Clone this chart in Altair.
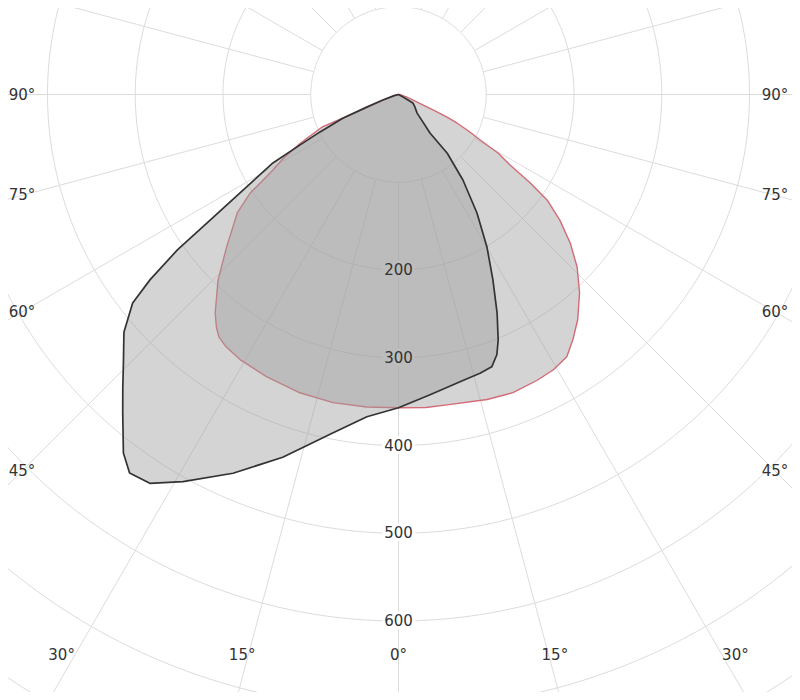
import altair as alt
import numpy as np
import pandas as pd

# ---- data: luminous intensity polar curves (angle from nadir in degrees, + = right; value in cd) ----
# C90-C270 plane (red outline)
red_angle = [-90, -80, -75, -70, -68.4, -67.1, -66.9, -63.6, -61, -59, -56.4, -53.7, -48.4, -44.2,
             -40, -38, -36.5, -34.5, -30.8, -25, -18.3, -12, -5.8, 0, 5, 8.9, 16.2, 21, 25.9, 29.3,
             32.7, 35.4, 38.5, 42.4, 46, 49.1, 52.1, 54.6, 56.1, 57.7, 59.5, 60.8, 62.5, 64, 65.1,
             65.8, 67, 69, 72, 75, 80, 90]
red_value = [0, 3, 6, 15, 26, 60, 95, 125, 150, 167, 203, 228, 262, 295,
             325, 337, 344, 348, 352, 355, 358, 359, 358, 357, 358, 358, 362, 364, 362, 360,
             355, 343, 328, 306, 283, 259, 233, 208, 181, 150, 132, 108, 90, 74, 61,
             45, 30, 18, 10, 6, 3, 0]

# C0-C180 plane (black outline)
black_angle = [-90, -75, -70.5, -68.4, -67, -64.5, -62.9, -61.4, -58.4, -56.3, -54.9, -53.3, -51.9,
               -49.1, -45.7, -43.2, -40.9, -37.5, -35.4, -32.6, -29.1, -23.6, -17.7, -11, -5.6, 0,
               6, 12.7, 16.3, 18.9, 20.7, 22.1, 24.3, 27, 30.1, 33.5, 37, 39.7, 39.3, 45, 52,
               59.6, 61, 90]
black_value = [0, 5, 19, 39, 69, 99, 126, 163, 208, 258, 308, 353, 385,
               414, 438, 459, 480, 515, 529, 526, 505, 471, 434, 393, 369, 357,
               344, 334, 331, 328, 317, 302, 273, 237, 201, 162, 122, 87, 57, 30, 24,
               19, 6, 0]

ring_values = [100, 200, 300, 400, 500, 600, 700, 800, 900, 1000]
ring_labels = [200, 300, 400, 500, 600]
spoke_angles = list(range(0, 360, 15))
angle_ticks = [-90, -75, -60, -45, -30, -15, 0, 15, 30, 45, 60, 75, 90]

# ---- layout ----
PX_PER_UNIT = 0.8775
W_PX, H_PX = 784, 684
CX, CY = 390.5, 86.5
x_dom = [-CX / PX_PER_UNIT, (W_PX - CX) / PX_PER_UNIT]
y_dom = [-(H_PX - CY) / PX_PER_UNIT, CY / PX_PER_UNIT]
xs = alt.Scale(domain=x_dom, nice=False, zero=False)
ys = alt.Scale(domain=y_dom, nice=False, zero=False)
LBL_W = 376.5 / PX_PER_UNIT
LBL_D = 583.5 / PX_PER_UNIT

GRID = "#dcdcdc"
TXT = "#333333"
FONT = "DejaVu Sans"

# grid circles
rows = []
for r in ring_values:
    for i, a in enumerate(np.arange(0, 361, 1.0)):
        rows.append({"ring": r, "i": i, "a": float(a), "r": r})
circ_df = pd.DataFrame(rows)
circles = alt.Chart(circ_df).transform_calculate(
    x="datum.r*sin(datum.a*PI/180)", y="-datum.r*cos(datum.a*PI/180)"
).mark_line(color=GRID, strokeWidth=1, clip=True).encode(
    x=alt.X("x:Q", scale=xs, axis=None),
    y=alt.Y("y:Q", scale=ys, axis=None),
    detail="ring:N",
    order="i:Q",
)

# spokes
sp_df = pd.DataFrame({"a": spoke_angles, "r0": 100, "r1": 1300})
spokes = alt.Chart(sp_df).transform_calculate(
    x="datum.r0*sin(datum.a*PI/180)", y="-datum.r0*cos(datum.a*PI/180)",
    x2="datum.r1*sin(datum.a*PI/180)", y2="-datum.r1*cos(datum.a*PI/180)",
).mark_rule(color=GRID, strokeWidth=1, clip=True).encode(
    x=alt.X("x:Q", scale=xs, axis=None),
    y=alt.Y("y:Q", scale=ys, axis=None),
    x2="x2:Q", y2="y2:Q",
)

# radial value labels
rl_df = pd.DataFrame({"r": ring_labels, "label": [str(v) for v in ring_labels]})
rl_base = alt.Chart(rl_df).transform_calculate(x="0", y="-datum.r")
rl_halo = rl_base.mark_text(font=FONT, fontSize=15, color="white", stroke="white", strokeWidth=6,
                            align="center", baseline="middle").encode(
    x=alt.X("x:Q", scale=xs, axis=None), y=alt.Y("y:Q", scale=ys, axis=None), text="label:N")
rl_text = rl_base.mark_text(font=FONT, fontSize=15, color=TXT,
                            align="center", baseline="middle").encode(
    x=alt.X("x:Q", scale=xs, axis=None), y=alt.Y("y:Q", scale=ys, axis=None), text="label:N")


def poly(angles, values, stroke, width):
    df = pd.DataFrame({"a": angles, "v": values, "i": range(len(angles))})
    return alt.Chart(df).transform_calculate(
        x="datum.v*sin(datum.a*PI/180)", y="-datum.v*cos(datum.a*PI/180)"
    ).mark_line(fill="#a0a0a0", fillOpacity=0.45, stroke=stroke, strokeWidth=width,
                strokeJoin="round", interpolate="linear-closed", clip=True).encode(
        x=alt.X("x:Q", scale=xs, axis=None),
        y=alt.Y("y:Q", scale=ys, axis=None),
        order="i:Q",
    )


red_poly = poly(red_angle, red_value, "#d46a76", 1.4)
black_poly = poly(black_angle, black_value, "#333333", 1.7)

# angle labels around the frame
side_rows, bottom_rows = [], []
for g in angle_ticks:
    s, c = np.sin(np.radians(g)), np.cos(np.radians(g))
    tw = LBL_W / abs(s) if abs(s) > 1e-9 else 1e9
    td = LBL_D / c if c > 1e-9 else 1e9
    t = min(tw, td)
    row = {"x": t * s, "y": -t * c, "label": f"{abs(g)}°"}
    (side_rows if tw <= td else bottom_rows).append(row)


def ang_layer(rows, dy):
    return alt.Chart(pd.DataFrame(rows)).mark_text(
        font=FONT, fontSize=15, color=TXT, align="center", baseline="middle", dy=dy
    ).encode(x=alt.X("x:Q", scale=xs, axis=None), y=alt.Y("y:Q", scale=ys, axis=None),
             text="label:N")


side_labels = ang_layer(side_rows, 0)
bottom_labels = ang_layer(bottom_rows, -23)

chart = alt.layer(
    circles, spokes, rl_halo, red_poly, black_poly, rl_text, side_labels, bottom_labels
).properties(
    width=W_PX, height=H_PX, autosize=alt.AutoSizeParams(type="none"), padding=0,
    background="white",
).configure_view(stroke=None)

chart.save("out.html", embed_options={"renderer": "svg", "actions": False})
